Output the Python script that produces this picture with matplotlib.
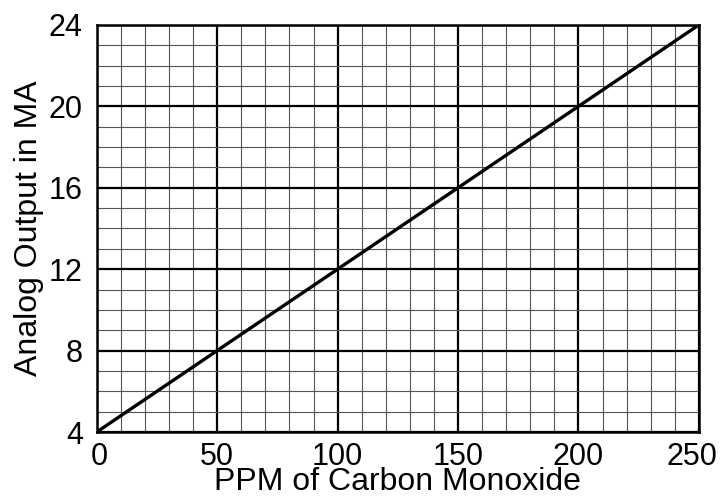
import numpy as np
import matplotlib.pyplot as plt
from matplotlib.ticker import MultipleLocator
from matplotlib.transforms import ScaledTranslation

# sensor response: ppm CO -> analog output (mA)
ppm = [0, 250]
output_ma = [4, 24]

x_ticks = [0, 50, 100, 150, 200, 250]
y_ticks = [4, 8, 12, 16, 20, 24]

plt.rcParams['font.family'] = ['Liberation Sans', 'DejaVu Sans']

fig = plt.figure(figsize=(7.22, 4.98), dpi=100)
ax = fig.add_axes([0.134, 0.1325, 0.834, 0.8175])

ax.plot(ppm, output_ma, color='black', linewidth=2.4, zorder=3)

ax.set_xlim(0, 250)
ax.set_ylim(4, 24)
ax.set_xticks(x_ticks)
ax.set_yticks(y_ticks)
ax.xaxis.set_minor_locator(MultipleLocator(10))
ax.yaxis.set_minor_locator(MultipleLocator(1))

ax.grid(which='major', color='black', linewidth=1.6)
ax.grid(which='minor', color='#555555', linewidth=0.8)
ax.set_axisbelow(True)

ax.tick_params(which='both', length=0, labelsize=22)
ax.tick_params(axis='x', pad=7)
ax.tick_params(axis='y', pad=10)
for s in ax.spines.values():
    s.set_linewidth(1.8)

ax.set_xlabel('PPM of Carbon Monoxide', fontsize=23)
ax.set_ylabel('Analog Output in MA', fontsize=23)
ax.xaxis.set_label_coords(0.5, -0.085)
ax.yaxis.set_label_coords(-0.088, 0.5)

# first/last x labels are nudged inward like in the original
fig.canvas.draw()
xl = ax.get_xticklabels()
xl[0].set_transform(xl[0].get_transform() + ScaledTranslation(0.025, 0, fig.dpi_scale_trans))
xl[-1].set_transform(xl[-1].get_transform() + ScaledTranslation(-0.07, 0, fig.dpi_scale_trans))

fig.savefig('out.png', dpi=100)
